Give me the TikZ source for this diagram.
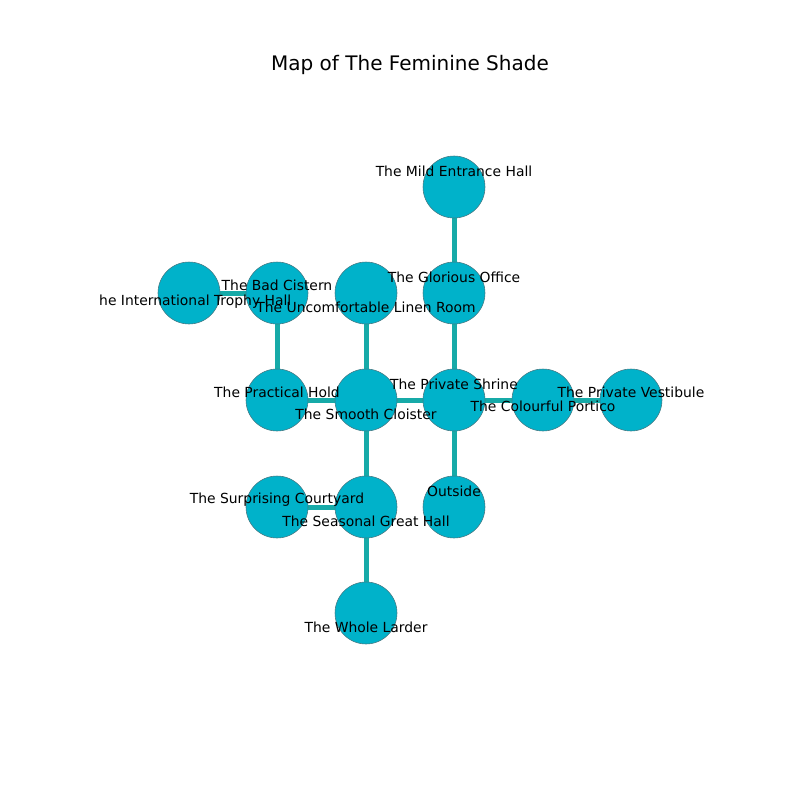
\documentclass[tikz,border=0pt]{standalone}
\usepackage{fontspec}
\setmainfont{DejaVu Sans}
\definecolor{roomfill}{RGB}{0,178,202}
\definecolor{roomline}{RGB}{70,120,130}
\definecolor{passage}{RGB}{22,170,168}
\tikzset{
  room/.style={circle, draw=roomline, line width=0.4pt, fill=roomfill, minimum size=62*0.72pt, inner sep=0pt},
  lbl/.style={font=\fontsize{10}{12}\selectfont, inner sep=0pt, anchor=center, text height=0.8em, text depth=0em},
  link/.style={draw=passage, line width=3.6pt}
}
\begin{document}
\begin{tikzpicture}[x=0.72pt, y=-0.72pt]
\useasboundingbox (0,0) rectangle (800,800);
\fill[white] (0,0) rectangle (800,800);
\node[font=\fontsize{14.4}{17}\selectfont, inner sep=0pt, text height=0.76em, text depth=0.24em] (title) at (410,67) {Map of The Feminine Shade};
\begin{scope}
\clip (100,96) rectangle (720,712);
% room positions
\coordinate (pMild) at (454,187);
\coordinate (pGlor) at (454,293);
\coordinate (pTrop) at (189,293);
\coordinate (pBad) at (277,293);
\coordinate (pLin) at (366,293);
\coordinate (pPrac) at (277,400);
\coordinate (pSmo) at (366,400);
\coordinate (pShr) at (454,400);
\coordinate (pPor) at (543,400);
\coordinate (pVes) at (631,400);
\coordinate (pSur) at (277,507);
\coordinate (pSea) at (366,507);
\coordinate (pOut) at (454,507);
\coordinate (pLar) at (366,613);
% passages
\draw[link] (pMild) -- (pGlor);
\draw[link] (pGlor) -- (pShr);
\draw[link] (pLin) -- (pSmo);
\draw[link] (pBad) -- (pPrac);
\draw[link] (pTrop) -- (pBad);
\draw[link] (pPrac) -- (pSmo);
\draw[link] (pSmo) -- (pShr);
\draw[link] (pShr) -- (pPor);
\draw[link] (pPor) -- (pVes);
\draw[link] (pSmo) -- (pSea);
\draw[link] (pSur) -- (pSea);
\draw[link] (pSea) -- (pLar);
\draw[link] (pShr) -- (pOut);
% rooms
\node[room] (mild) at (pMild) {};
\node[room] (glor) at (pGlor) {};
\node[room] (trop) at (pTrop) {};
\node[room] (bad) at (pBad) {};
\node[room] (lin) at (pLin) {};
\node[room] (prac) at (pPrac) {};
\node[room] (smo) at (pSmo) {};
\node[room] (shr) at (pShr) {};
\node[room] (por) at (pPor) {};
\node[room] (ves) at (pVes) {};
\node[room] (sur) at (pSur) {};
\node[room] (sea) at (pSea) {};
\node[room] (out) at (pOut) {};
\node[room] (lar) at (pLar) {};
% names
\node[lbl] (tMild) at (454,171) {The Mild Entrance Hall};
\node[lbl] (tGlor) at (454,277) {The Glorious Office};
\node[lbl] (tTrop) at (191,300) {The International Trophy Hall};
\node[lbl] (tBad) at (277,285) {The Bad Cistern};
\node[lbl] (tLin) at (366,307) {The Uncomfortable Linen Room};
\node[lbl] (tPrac) at (277,392) {The Practical Hold};
\node[lbl] (tSmo) at (366,414) {The Smooth Cloister};
\node[lbl] (tShr) at (454,384) {The Private Shrine};
\node[lbl] (tPor) at (543,406) {The Colourful Portico};
\node[lbl] (tVes) at (631,392) {The Private Vestibule};
\node[lbl] (tSur) at (277,498) {The Surprising Courtyard};
\node[lbl] (tSea) at (366,521) {The Seasonal Great Hall};
\node[lbl] (tOut) at (454,491) {Outside};
\node[lbl] (tLar) at (366,627) {The Whole Larder};
\end{scope}
\end{tikzpicture}
\end{document}
